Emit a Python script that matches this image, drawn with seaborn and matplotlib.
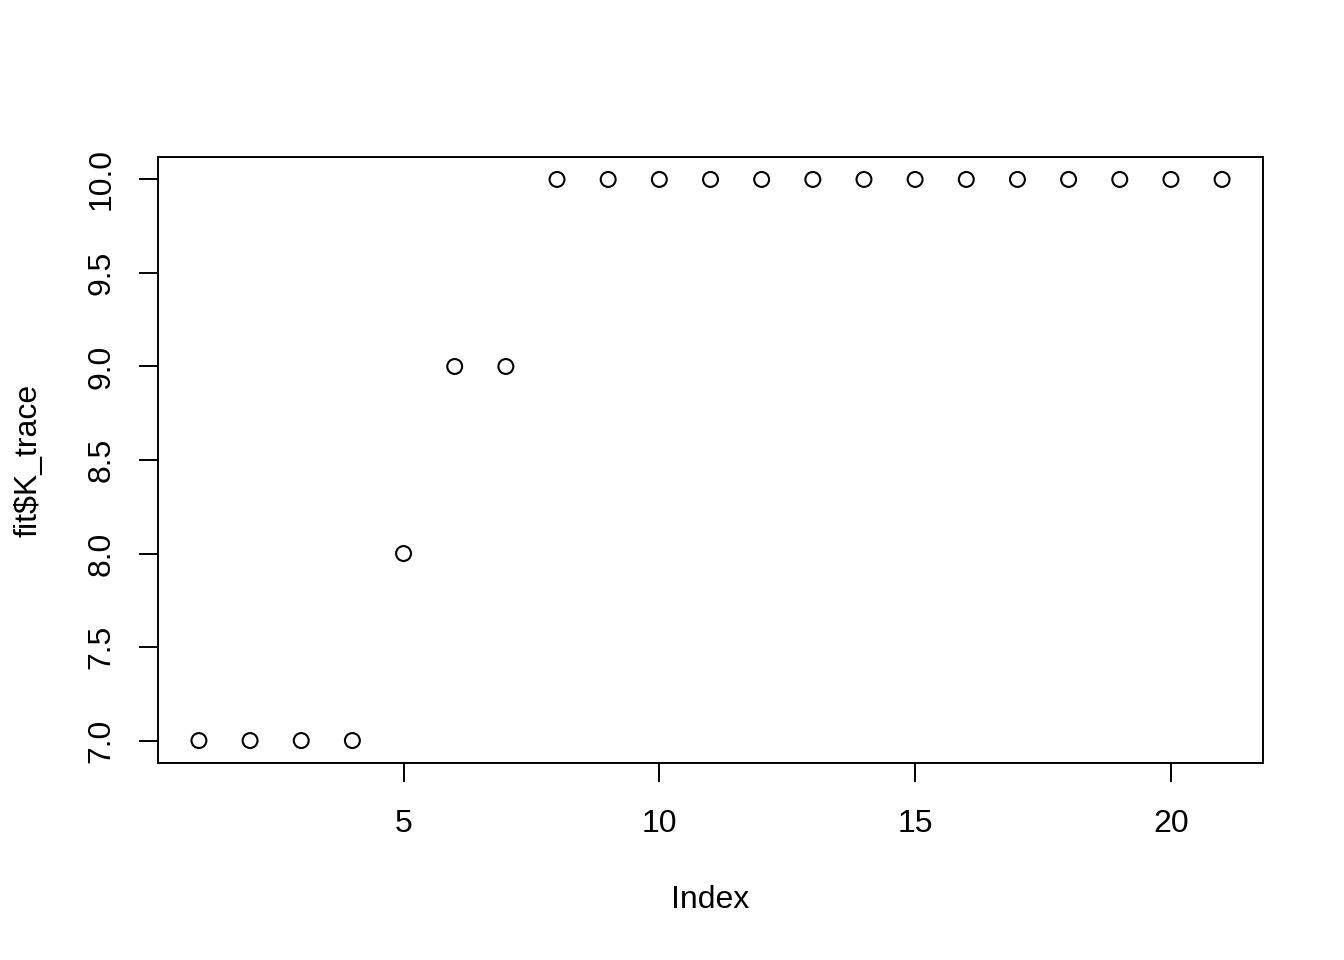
import matplotlib
matplotlib.use('Agg')
import matplotlib.pyplot as plt
import seaborn as sns
import numpy as np

# K trace values
index = list(range(1, 22))
k_trace = [7, 7, 7, 7, 8, 9, 9, 10, 10, 10, 10, 10, 10, 10, 10, 10, 10, 10, 10, 10, 10]
x_ticks = [5, 10, 15, 20]
y_ticks = [7.0, 7.5, 8.0, 8.5, 9.0, 9.5, 10.0]

sns.set_style("white")
plt.rcParams['font.family'] = ['Liberation Sans', 'DejaVu Sans']
plt.rcParams['text.color'] = 'black'
plt.rcParams['axes.labelcolor'] = 'black'

fig = plt.figure(figsize=(13.44, 9.6), dpi=100)
ax = fig.add_axes([158 / 1344, 1 - 763 / 960, (1263 - 158) / 1344, (763 - 157) / 960])

sns.scatterplot(x=index, y=k_trace, ax=ax, marker='o', s=115,
                facecolors='none', edgecolors='black', linewidths=1.5)

ax.set_xlim(0.2, 21.8)
ax.set_ylim(6.88, 10.12)
ax.set_xticks(x_ticks)
ax.set_xticklabels([str(t) for t in x_ticks])
ax.set_yticks(y_ticks)
ax.set_yticklabels([f"{t:.1f}" for t in y_ticks], rotation=90, va='center')

for sp in ax.spines.values():
    sp.set_visible(True)
    sp.set_color('black')
    sp.set_linewidth(1.4)

fs = 23
ax.tick_params(axis='both', which='both', direction='out', length=13.7, width=1.4,
               color='black', labelsize=fs, labelcolor='black', bottom=True, left=True)
ax.tick_params(axis='x', pad=19.5)
ax.tick_params(axis='y', pad=16)

ax.set_xlabel("Index", fontsize=fs, labelpad=33, color='black')
ax.set_ylabel("fit$K_trace", fontsize=fs, labelpad=31, color='black')

fig.savefig("out.png", dpi=100)
